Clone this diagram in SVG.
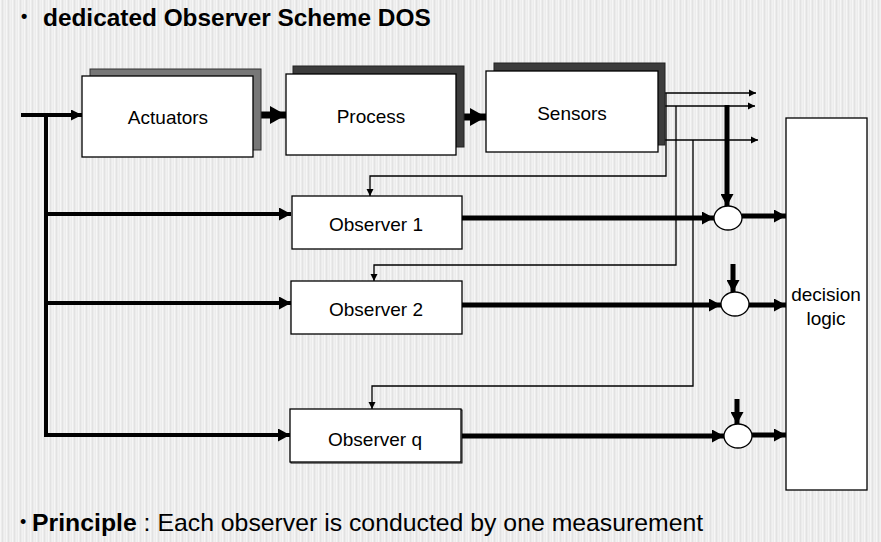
<svg xmlns="http://www.w3.org/2000/svg" width="881" height="542" viewBox="0 0 881 542">
  <defs>
    <pattern id="bg" width="6" height="10" patternUnits="userSpaceOnUse">
      <rect width="6" height="10" fill="#ececec"/>
      <rect x="0" width="1" height="10" fill="#f6f6f6"/>
      <rect x="2" width="1" height="10" fill="#e2e2e2"/>
      <rect x="4" width="1" height="10" fill="#f1f1f1"/>
    </pattern>
    <marker id="big" markerUnits="userSpaceOnUse" markerWidth="17" markerHeight="18" refX="16" refY="9" orient="auto">
      <path d="M0,0 L16,9 L0,18 z" fill="#000"/>
    </marker>
    <marker id="med" markerUnits="userSpaceOnUse" markerWidth="13" markerHeight="13" refX="12" refY="6.5" orient="auto">
      <path d="M0,0 L12,6.5 L0,13 z" fill="#000"/>
    </marker>
    <marker id="small" markerUnits="userSpaceOnUse" markerWidth="12" markerHeight="11" refX="11" refY="5.5" orient="auto">
      <path d="M0,0 L11,5.5 L0,11 z" fill="#000"/>
    </marker>
    <marker id="tiny" markerUnits="userSpaceOnUse" markerWidth="8" markerHeight="8" refX="7" refY="4" orient="auto">
      <path d="M0,0.5 L7,4 L0,7.5 z" fill="#000"/>
    </marker>
    <style>
      .box { fill: #fff; stroke: #000; stroke-width: 1.3; }
      .lbl { font-family: "Liberation Sans", Arial, sans-serif; font-size: 19px; fill: #000; text-anchor: middle; }
      .thin { fill: none; stroke: #000; stroke-width: 1.3; }
      .bus { fill: none; stroke: #000; stroke-width: 4; }
      .res { fill: none; stroke: #000; stroke-width: 5; }
      .fat { fill: none; stroke: #000; stroke-width: 7; }
      .sum { fill: #fff; stroke: #000; stroke-width: 1.3; }
      .head { font-family: "Liberation Sans", Arial, sans-serif; fill: #000; }
    </style>
  </defs>

  <rect width="881" height="542" fill="url(#bg)"/>

  <text class="head" x="21" y="22" font-size="18" font-weight="bold">•</text>
  <text class="head" x="43" y="26" font-size="24.4" font-weight="bold">dedicated Observer Scheme DOS</text>

  <g id="connectors">
    <line class="bus" x1="21" y1="115" x2="82" y2="115" marker-end="url(#small)"/>
    <line class="bus" x1="46" y1="113" x2="46" y2="437"/>
    <line class="bus" x1="44" y1="214" x2="291" y2="214" marker-end="url(#med)"/>
    <line class="bus" x1="44" y1="303" x2="291" y2="303" marker-end="url(#med)"/>
    <line class="bus" x1="44" y1="435" x2="290" y2="435" marker-end="url(#med)"/>
    <line class="fat" x1="261" y1="115" x2="286" y2="115" marker-end="url(#big)"/>
    <line class="fat" x1="464" y1="117" x2="486" y2="117" marker-end="url(#big)"/>
    <line class="thin" x1="658" y1="93" x2="756" y2="93" marker-end="url(#tiny)"/>
    <line class="thin" x1="659" y1="106" x2="755" y2="106" marker-end="url(#tiny)"/>
    <line class="thin" x1="661" y1="140" x2="758" y2="140" marker-end="url(#tiny)"/>
    <polyline class="thin" points="666,93 666,176 370,176 370,196" marker-end="url(#tiny)"/>
    <polyline class="thin" points="676,106 676,265 374,265 374,281" marker-end="url(#tiny)"/>
    <polyline class="thin" points="693,140 693,386 372,386 372,409" marker-end="url(#tiny)"/>
    <line class="res" x1="727" y1="105" x2="727" y2="206" marker-end="url(#med)"/>
    <line class="res" x1="733" y1="264" x2="733" y2="292" marker-end="url(#med)"/>
    <line class="res" x1="737" y1="399" x2="737" y2="424" marker-end="url(#med)"/>
    <line class="res" x1="462" y1="218" x2="714" y2="218" marker-end="url(#med)"/>
    <line class="res" x1="462" y1="305" x2="721" y2="305" marker-end="url(#med)"/>
    <line class="res" x1="461" y1="436" x2="724" y2="436" marker-end="url(#med)"/>
    <line class="res" x1="742" y1="216" x2="786" y2="216" marker-end="url(#med)"/>
    <line class="res" x1="749" y1="305" x2="786" y2="305" marker-end="url(#med)"/>
    <line class="res" x1="752" y1="435" x2="786" y2="435" marker-end="url(#med)"/>
  </g>

  <g id="actuators">
    <rect x="90" y="69" width="171" height="81" fill="#777" stroke="#333" stroke-width="1"/>
    <rect class="box" x="82" y="76" width="171" height="81"/>
    <text class="lbl" x="168" y="124">Actuators</text>
  </g>
  <g id="process">
    <rect x="293" y="66" width="171" height="81" fill="#3c3c3c" stroke="#222" stroke-width="1"/>
    <rect class="box" x="286" y="74" width="170" height="81"/>
    <text class="lbl" x="371" y="123">Process</text>
  </g>
  <g id="sensors">
    <rect x="494" y="63" width="171" height="82" fill="#3c3c3c" stroke="#222" stroke-width="1"/>
    <rect class="box" x="486" y="71" width="172" height="81"/>
    <text class="lbl" x="572" y="120">Sensors</text>
  </g>

  <g id="observer1">
    <rect class="box" x="292" y="196" width="170" height="53"/>
    <text class="lbl" x="376" y="231">Observer 1</text>
  </g>
  <g id="observer2">
    <rect class="box" x="291" y="281" width="171" height="53"/>
    <text class="lbl" x="376" y="316">Observer 2</text>
  </g>
  <g id="observerq">
    <rect x="291" y="410" width="171" height="53" fill="#fff" stroke="#000" stroke-width="1"/>
    <rect class="box" x="290" y="409" width="171" height="53"/>
    <text class="lbl" x="375" y="446">Observer q</text>
  </g>

  <g id="sum1"><ellipse class="sum" cx="728" cy="218" rx="14" ry="12"/></g>
  <g id="sum2"><ellipse class="sum" cx="735" cy="304" rx="14" ry="12"/></g>
  <g id="sumq"><ellipse class="sum" cx="738" cy="436" rx="14" ry="12"/></g>

  <g id="decision">
    <rect class="box" x="786" y="118" width="81" height="372"/>
    <text class="lbl" x="826" y="301">decision</text>
    <text class="lbl" x="826" y="325">logic</text>
  </g>

  <text class="head" x="20" y="528" font-size="18">•</text>
  <text class="head" x="32" y="531" font-size="24.8"><tspan font-weight="bold">Principle</tspan> : Each observer is conducted by one measurement</text>
</svg>
